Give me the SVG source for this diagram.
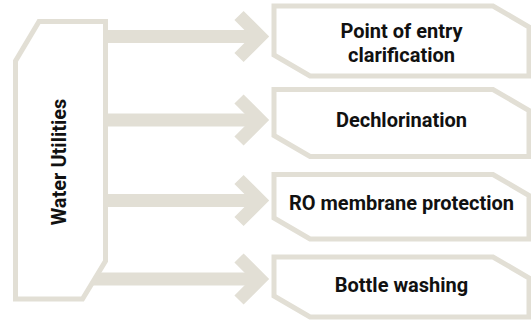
<svg xmlns="http://www.w3.org/2000/svg" width="531" height="328" viewBox="0 0 531 328">
  <style>
    .shape { fill: #ffffff; stroke: #e2dfd5; stroke-width: 5; stroke-linejoin: miter; }
    .shaft { stroke: #e2dfd5; stroke-width: 13; fill: none; stroke-linecap: butt; }
    .head { stroke: #e2dfd5; stroke-width: 13; fill: none; stroke-linecap: butt; stroke-linejoin: miter; stroke-miterlimit: 4; }
    .label { font-family: Roboto, "Liberation Sans", sans-serif; font-weight: bold; font-size: 20px; fill: #111111; text-anchor: middle; }
  </style>
  <rect width="531" height="328" fill="#ffffff"/>
  <g id="connectors">
    <line class="shaft" x1="90" y1="36.5" x2="256" y2="36.5"/>
    <polyline class="head" points="239,15.5 260,36.5 239,57.5"/>
    <line class="shaft" x1="90" y1="120" x2="256" y2="120"/>
    <polyline class="head" points="239,99 260,120 239,141"/>
    <line class="shaft" x1="90" y1="200.5" x2="256" y2="200.5"/>
    <polyline class="head" points="239,179.5 260,200.5 239,221.5"/>
    <line class="shaft" x1="80" y1="279" x2="256" y2="279"/>
    <polyline class="head" points="239,258 260,279 239,300"/>
  </g>
  <g id="water-utilities">
    <path class="shape" d="M39,21.5 H105.5 V261 L82.5,299 H15.5 V61 Z"/>
    <text class="label" transform="translate(66,162) rotate(-90)">Water Utilities</text>
  </g>
  <g id="point-of-entry">
    <path class="shape" d="M274,6 H493 L529,27 V76 H310 L274,55 Z"/>
    <text class="label" x="401.5" y="38">Point of entry</text>
    <text class="label" x="401.5" y="62">clarification</text>
  </g>
  <g id="dechlorination">
    <path class="shape" d="M274,89.5 H493 L529,110.5 V156.5 H310 L274,135.5 Z"/>
    <text class="label" x="401.5" y="127">Dechlorination</text>
  </g>
  <g id="ro-membrane">
    <path class="shape" d="M274,174.5 H493 L529,195.5 V239 H310 L274,218 Z"/>
    <text class="label" x="401.5" y="210">RO membrane protection</text>
  </g>
  <g id="bottle-washing">
    <path class="shape" d="M274,257 H493 L529,278 V317 H310 L274,296 Z"/>
    <text class="label" x="401.5" y="292">Bottle washing</text>
  </g>
</svg>
